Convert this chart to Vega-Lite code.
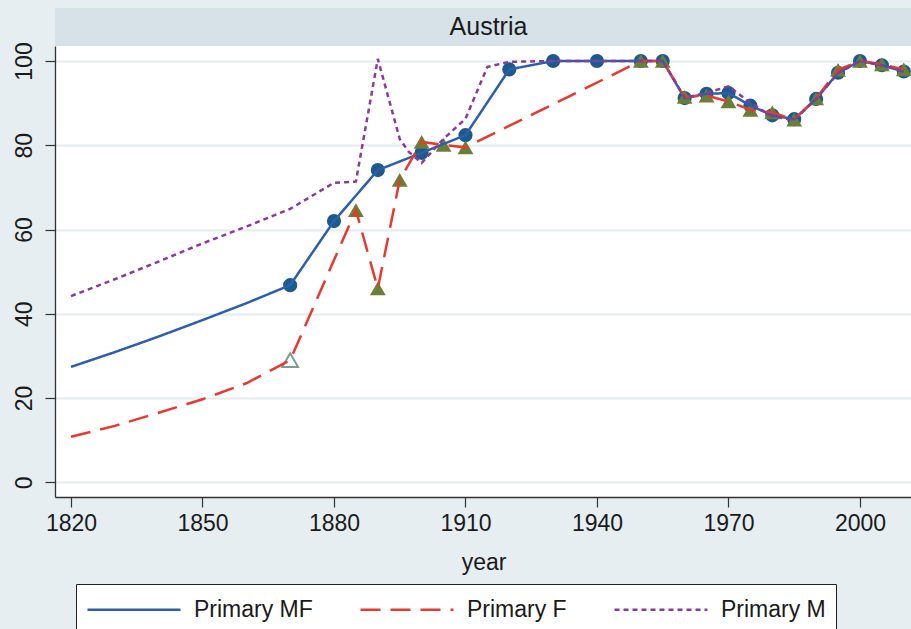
{
  "$schema": "https://vega.github.io/schema/vega-lite/v6.json",
  "background": "#e6eef1",
  "padding": {"left": 12, "top": 8, "right": 0, "bottom": 0},
  "spacing": 0,
  "bounds": "flush",
  "config": {
    "font": "Liberation Sans",
    "view": {"stroke": null}
  },
  "datasets": {
    "title": [{"country": "Austria"}],
    "enrol": [
      {"series": "Primary MF", "year": 1820, "value": 27.4, "status": "none"},
      {"series": "Primary MF", "year": 1830, "value": 30.9, "status": "none"},
      {"series": "Primary MF", "year": 1840, "value": 34.6, "status": "none"},
      {"series": "Primary MF", "year": 1850, "value": 38.5, "status": "none"},
      {"series": "Primary MF", "year": 1860, "value": 42.5, "status": "none"},
      {"series": "Primary MF", "year": 1870, "value": 46.8, "status": "obs"},
      {"series": "Primary MF", "year": 1880, "value": 62.0, "status": "obs"},
      {"series": "Primary MF", "year": 1890, "value": 74.1, "status": "obs"},
      {"series": "Primary MF", "year": 1900, "value": 78.2, "status": "obs"},
      {"series": "Primary MF", "year": 1910, "value": 82.4, "status": "obs"},
      {"series": "Primary MF", "year": 1920, "value": 98.0, "status": "obs"},
      {"series": "Primary MF", "year": 1930, "value": 100, "status": "obs"},
      {"series": "Primary MF", "year": 1940, "value": 100, "status": "obs"},
      {"series": "Primary MF", "year": 1950, "value": 100, "status": "obs"},
      {"series": "Primary MF", "year": 1955, "value": 100, "status": "obs"},
      {"series": "Primary MF", "year": 1960, "value": 91.2, "status": "obs"},
      {"series": "Primary MF", "year": 1965, "value": 92.2, "status": "obs"},
      {"series": "Primary MF", "year": 1970, "value": 92.4, "status": "obs"},
      {"series": "Primary MF", "year": 1975, "value": 89.4, "status": "obs"},
      {"series": "Primary MF", "year": 1980, "value": 87.1, "status": "obs"},
      {"series": "Primary MF", "year": 1985, "value": 86.2, "status": "obs"},
      {"series": "Primary MF", "year": 1990, "value": 91.0, "status": "obs"},
      {"series": "Primary MF", "year": 1995, "value": 97.2, "status": "obs"},
      {"series": "Primary MF", "year": 2000, "value": 100, "status": "obs"},
      {"series": "Primary MF", "year": 2005, "value": 99.0, "status": "obs"},
      {"series": "Primary MF", "year": 2010, "value": 97.5, "status": "obs"},
      {"series": "Primary F", "year": 1820, "value": 10.8, "status": "none"},
      {"series": "Primary F", "year": 1830, "value": 13.4, "status": "none"},
      {"series": "Primary F", "year": 1840, "value": 16.5, "status": "none"},
      {"series": "Primary F", "year": 1850, "value": 19.7, "status": "none"},
      {"series": "Primary F", "year": 1860, "value": 23.5, "status": "none"},
      {"series": "Primary F", "year": 1870, "value": 29.0, "status": "est"},
      {"series": "Primary F", "year": 1885, "value": 64.6, "status": "obs"},
      {"series": "Primary F", "year": 1890, "value": 46.0, "status": "obs"},
      {"series": "Primary F", "year": 1895, "value": 71.8, "status": "obs"},
      {"series": "Primary F", "year": 1900, "value": 80.8, "status": "obs"},
      {"series": "Primary F", "year": 1905, "value": 80.1, "status": "obs"},
      {"series": "Primary F", "year": 1910, "value": 79.5, "status": "obs"},
      {"series": "Primary F", "year": 1950, "value": 100, "status": "obs"},
      {"series": "Primary F", "year": 1955, "value": 100, "status": "obs"},
      {"series": "Primary F", "year": 1960, "value": 91.5, "status": "obs"},
      {"series": "Primary F", "year": 1965, "value": 91.8, "status": "obs"},
      {"series": "Primary F", "year": 1970, "value": 90.4, "status": "obs"},
      {"series": "Primary F", "year": 1975, "value": 88.4, "status": "obs"},
      {"series": "Primary F", "year": 1980, "value": 87.8, "status": "obs"},
      {"series": "Primary F", "year": 1985, "value": 86.1, "status": "obs"},
      {"series": "Primary F", "year": 1990, "value": 91.1, "status": "obs"},
      {"series": "Primary F", "year": 1995, "value": 97.9, "status": "obs"},
      {"series": "Primary F", "year": 2000, "value": 100, "status": "obs"},
      {"series": "Primary F", "year": 2005, "value": 99.2, "status": "obs"},
      {"series": "Primary F", "year": 2010, "value": 98.0, "status": "obs"},
      {"series": "Primary M", "year": 1820, "value": 44.2, "status": "none"},
      {"series": "Primary M", "year": 1830, "value": 48.2, "status": "none"},
      {"series": "Primary M", "year": 1840, "value": 52.4, "status": "none"},
      {"series": "Primary M", "year": 1850, "value": 56.7, "status": "none"},
      {"series": "Primary M", "year": 1860, "value": 60.7, "status": "none"},
      {"series": "Primary M", "year": 1870, "value": 64.9, "status": "none"},
      {"series": "Primary M", "year": 1880, "value": 71.1, "status": "none"},
      {"series": "Primary M", "year": 1885, "value": 71.4, "status": "none"},
      {"series": "Primary M", "year": 1890, "value": 100.5, "status": "none"},
      {"series": "Primary M", "year": 1895, "value": 81.5, "status": "none"},
      {"series": "Primary M", "year": 1897, "value": 78.5, "status": "none"},
      {"series": "Primary M", "year": 1900, "value": 75.8, "status": "none"},
      {"series": "Primary M", "year": 1905, "value": 81.5, "status": "none"},
      {"series": "Primary M", "year": 1910, "value": 86.3, "status": "none"},
      {"series": "Primary M", "year": 1915, "value": 98.6, "status": "none"},
      {"series": "Primary M", "year": 1920, "value": 99.8, "status": "none"},
      {"series": "Primary M", "year": 1930, "value": 100, "status": "none"},
      {"series": "Primary M", "year": 1940, "value": 100, "status": "none"},
      {"series": "Primary M", "year": 1950, "value": 100, "status": "none"},
      {"series": "Primary M", "year": 1955, "value": 100, "status": "none"},
      {"series": "Primary M", "year": 1960, "value": 91.3, "status": "none"},
      {"series": "Primary M", "year": 1965, "value": 92.4, "status": "none"},
      {"series": "Primary M", "year": 1970, "value": 94.0, "status": "none"},
      {"series": "Primary M", "year": 1975, "value": 90.1, "status": "none"},
      {"series": "Primary M", "year": 1980, "value": 86.8, "status": "none"},
      {"series": "Primary M", "year": 1985, "value": 86.0, "status": "none"},
      {"series": "Primary M", "year": 1990, "value": 91.0, "status": "none"},
      {"series": "Primary M", "year": 1995, "value": 97.1, "status": "none"},
      {"series": "Primary M", "year": 2000, "value": 100, "status": "none"},
      {"series": "Primary M", "year": 2005, "value": 99.0, "status": "none"},
      {"series": "Primary M", "year": 2010, "value": 97.5, "status": "none"}
    ]
  },
  "vconcat": [
    {
      "width": 857,
      "height": 38,
      "data": {"name": "title"},
      "view": {"fill": "#d6e2e8", "stroke": null},
      "mark": {"type": "text", "fontSize": 25, "font": "Liberation Sans", "color": "#1a1a1a", "baseline": "middle", "align": "center", "dx": 5},
      "encoding": {"text": {"field": "country", "type": "nominal"}}
    },
    {
      "width": 857,
      "height": 451,
      "data": {"name": "enrol"},
      "view": {"fill": "#ffffff", "stroke": null},
      "encoding": {
        "x": {
          "field": "year", "type": "quantitative",
          "scale": {"domain": [1816.35, 2011.87], "nice": false, "zero": false},
          "axis": {
            "title": "year", "values": [1820, 1850, 1880, 1910, 1940, 1970, 2000], "format": "d",
            "grid": false, "domainColor": "#333333", "domainWidth": 1.3, "tickColor": "#333333", "tickSize": 10, "tickWidth": 1.2,
            "labelFontSize": 23, "labelColor": "#1a1a1a", "labelPadding": 5, "labelFont": "Liberation Sans",
            "titleFontSize": 23, "titleFontWeight": "normal", "titleColor": "#1a1a1a", "titlePadding": 16, "titleFont": "Liberation Sans"
          }
        },
        "y": {
          "field": "value", "type": "quantitative",
          "scale": {"domain": [-3.49, 103.56], "nice": false, "zero": false},
          "axis": {
            "title": null, "values": [0, 20, 40, 60, 80, 100],
            "grid": true, "gridColor": "#e4ecef", "gridWidth": 2,
            "domainColor": "#333333", "domainWidth": 1.3, "tickColor": "#333333", "tickSize": 10, "tickWidth": 1.2,
            "labelAngle": -90, "labelAlign": "center", "labelBaseline": "bottom",
            "labelFontSize": 23, "labelColor": "#1a1a1a", "labelPadding": 9, "labelFont": "Liberation Sans"
          }
        }
      },
      "layer": [
        {
          "transform": [{"filter": "datum.series === 'Primary MF' && datum.status === 'obs'"}],
          "mark": {"type": "point", "shape": "circle", "filled": true, "size": 200, "color": "#1d5a8c", "opacity": 1}
        },
        {
          "transform": [{"filter": "datum.series === 'Primary F' && datum.status === 'obs'"}],
          "mark": {"type": "point", "shape": "triangle-up", "filled": true, "size": 250, "color": "#6a7f36", "opacity": 1}
        },
        {
          "transform": [{"filter": "datum.series === 'Primary F' && datum.status === 'est'"}],
          "mark": {"type": "point", "shape": "triangle-up", "filled": false, "size": 250, "color": "#7f9b93", "strokeWidth": 2, "opacity": 1}
        },
        {
          "mark": {"type": "line", "strokeWidth": 2.5},
          "encoding": {
            "color": {
              "field": "series", "type": "nominal",
              "scale": {"domain": ["Primary MF", "Primary F", "Primary M"], "range": ["#2b5fad", "#e8392c", "#8a3a99"]},
              "legend": {
                "title": null, "orient": "none", "legendX": 21, "legendY": 576, "direction": "horizontal", "columns": 3,
                "columnPadding": 42, "symbolType": "M-1,0H5.64", "symbolSize": 784, "symbolStrokeWidth": 2.5, "symbolFillColor": "transparent",
                "labelFontSize": 23, "labelFont": "Liberation Sans", "labelColor": "#1a1a1a", "labelOffset": 77, "labelLimit": 300,
                "padding": 10, "fillColor": "#ffffff", "strokeColor": "#222222"
              }
            },
            "strokeDash": {
              "field": "series", "type": "nominal",
              "scale": {"domain": ["Primary MF", "Primary F", "Primary M"], "range": [[1, 0], [20, 10], [5, 4]]},
              "legend": {
                "title": null, "orient": "none", "legendX": 21, "legendY": 576, "direction": "horizontal", "columns": 3,
                "columnPadding": 42, "symbolType": "M-1,0H5.64", "symbolSize": 784, "symbolStrokeWidth": 2.5, "symbolFillColor": "transparent",
                "labelFontSize": 23, "labelFont": "Liberation Sans", "labelColor": "#1a1a1a", "labelOffset": 77, "labelLimit": 300,
                "padding": 10, "fillColor": "#ffffff", "strokeColor": "#222222"
              }
            }
          }
        }
      ]
    }
  ]
}
